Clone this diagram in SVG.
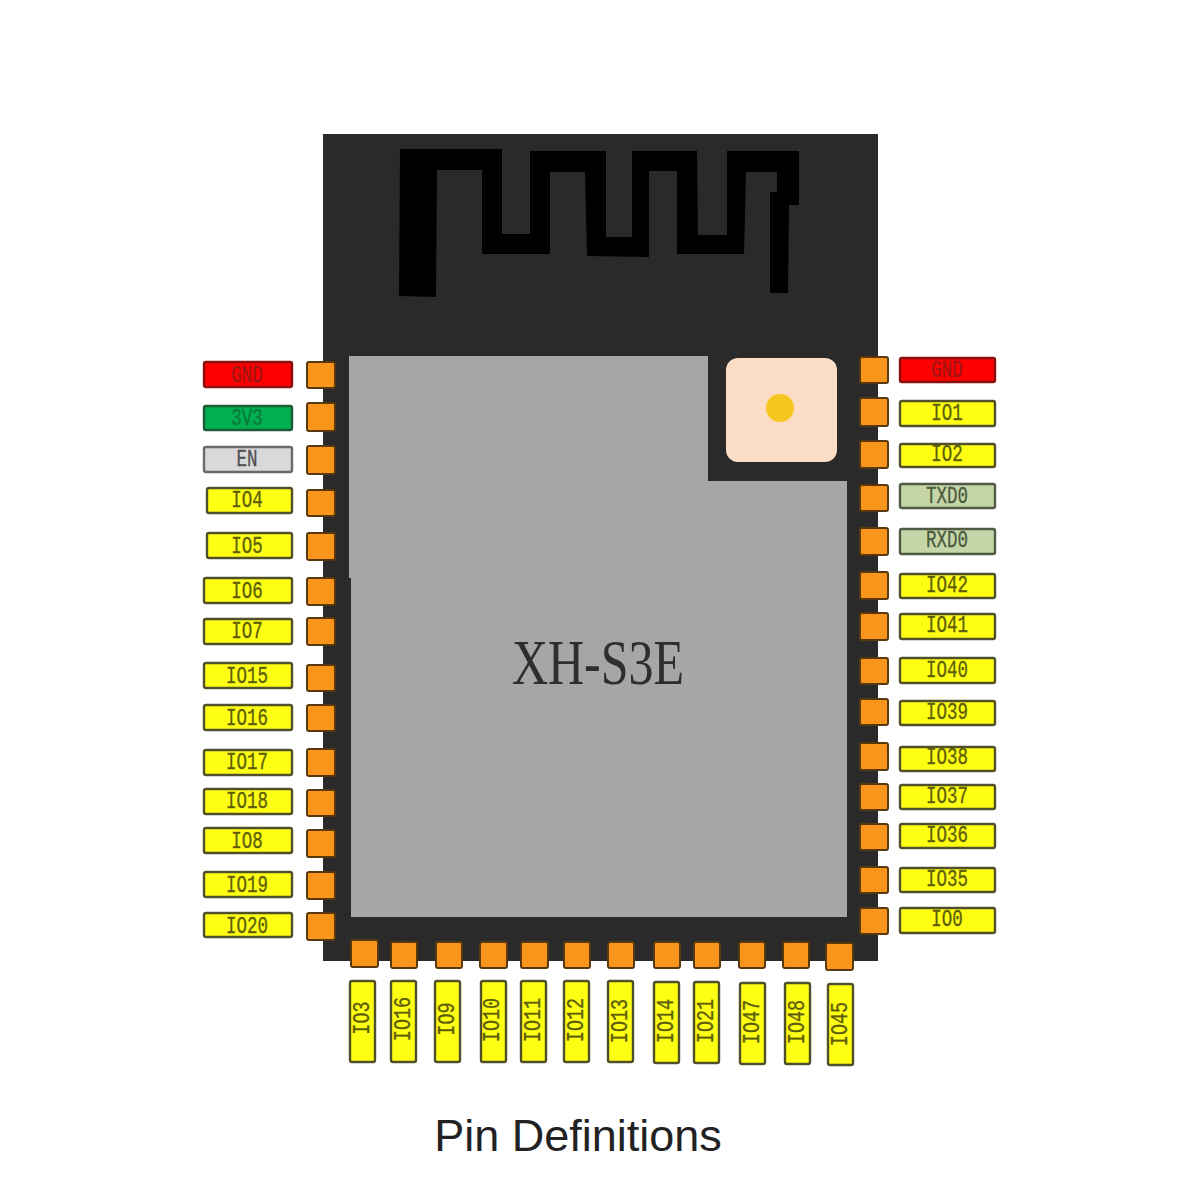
<svg xmlns="http://www.w3.org/2000/svg" width="1200" height="1200" viewBox="0 0 1200 1200">
<style>
  .pad { fill: #f8951a; stroke: #59390c; stroke-width: 2; }
  .tag { stroke: #50502a; stroke-width: 2.4; }
  .io { fill: #ffff14; }
  .gnd { fill: #ff0000; stroke: #8a1010; }
  .pwr { fill: #00b050; stroke: #1c5c38; }
  .en { fill: #d9d9d9; stroke: #6a6a6a; }
  .uart { fill: #c6d6a8; stroke: #4f5a44; }
  text { font-family: "Liberation Mono", monospace; font-size: 17.5px; text-anchor: middle; fill: #5e5e08; stroke: #5e5e08; stroke-width: 0.25; transform-box: fill-box; transform-origin: center; transform: scaleY(1.4); }
  .gnd + text { fill: #a01515; stroke: #a01515; }
  .pwr + text { fill: #0c7a3c; stroke: #0c7a3c; }
  .en + text { fill: #505050; stroke: #505050; }
  .uart + text { fill: #4a5a3c; stroke: #4a5a3c; }
  .side { font-size: 18.5px; transform: scaleY(1.25); }
  .name { font-family: "Liberation Serif", serif; font-size: 50px; fill: #2e2e2e; stroke: none; transform: scaleY(1.27); }
  .caption { font-family: "Liberation Sans", Arial, sans-serif; font-size: 45px; fill: #222222; stroke: none; transform: none; }
</style>

<rect width="1200" height="1200" fill="#ffffff"/>

<g id="module">
  <rect x="323" y="134" width="555" height="827" fill="#2a2a2a"/>
  <path id="antenna" fill="#000000" d="M400 149H502V234H530V151H606V237H632V151H697L698 235H727V151H799V205H789L788 293H770V192H777V172H746L744 254H677V171H649V257L587 256L585 172H550V254H482V170H437L436 297L399 296Z"/>
  <path id="shield" fill="#a6a6a6" d="M349 356H708V481H847V917H351V578H349Z"/>
  <rect id="ufl-connector" x="726" y="358" width="111" height="104" rx="12" fill="#fbdcc5"/>
  <circle cx="780" cy="408" r="14" fill="#f5c71f"/>
  <text class="name" x="598" y="679">XH-S3E</text>
</g>

<g id="left-pins">
  <g id="pin-gnd-l"><rect class="pad" x="307" y="362" width="28" height="26" rx="2"/><rect class="tag gnd" x="204" y="362" width="88" height="25" rx="2"/><text x="247" y="380">GND</text></g>
  <g id="pin-3v3"><rect class="pad" x="307" y="403" width="28" height="28" rx="2"/><rect class="tag pwr" x="204" y="406" width="88" height="24" rx="2"/><text x="247" y="423">3V3</text></g>
  <g id="pin-en"><rect class="pad" x="307" y="446" width="28" height="28" rx="2"/><rect class="tag en" x="204" y="447" width="88" height="25" rx="2"/><text x="247" y="464">EN</text></g>
  <g id="pin-io4"><rect class="pad" x="307" y="490" width="28" height="26" rx="2"/><rect class="tag io" x="207" y="488" width="85" height="25" rx="2"/><text x="247" y="505">IO4</text></g>
  <g id="pin-io5"><rect class="pad" x="307" y="533" width="28" height="27" rx="2"/><rect class="tag io" x="207" y="533" width="85" height="25" rx="2"/><text x="247" y="551">IO5</text></g>
  <g id="pin-io6"><rect class="pad" x="307" y="578" width="28" height="27" rx="2"/><rect class="tag io" x="204" y="578" width="88" height="25" rx="2"/><text x="247" y="596">IO6</text></g>
  <g id="pin-io7"><rect class="pad" x="307" y="618" width="28" height="27" rx="2"/><rect class="tag io" x="204" y="619" width="88" height="25" rx="2"/><text x="247" y="636">IO7</text></g>
  <g id="pin-io15"><rect class="pad" x="307" y="665" width="28" height="26" rx="2"/><rect class="tag io" x="204" y="663" width="88" height="25" rx="2"/><text x="247" y="681">IO15</text></g>
  <g id="pin-io16-l"><rect class="pad" x="307" y="705" width="28" height="26" rx="2"/><rect class="tag io" x="204" y="705" width="88" height="25" rx="2"/><text x="247" y="723">IO16</text></g>
  <g id="pin-io17"><rect class="pad" x="307" y="749" width="28" height="27" rx="2"/><rect class="tag io" x="204" y="750" width="88" height="25" rx="2"/><text x="247" y="767">IO17</text></g>
  <g id="pin-io18"><rect class="pad" x="307" y="790" width="28" height="26" rx="2"/><rect class="tag io" x="204" y="789" width="88" height="25" rx="2"/><text x="247" y="806">IO18</text></g>
  <g id="pin-io8"><rect class="pad" x="307" y="830" width="28" height="27" rx="2"/><rect class="tag io" x="204" y="828" width="88" height="25" rx="2"/><text x="247" y="846">IO8</text></g>
  <g id="pin-io19"><rect class="pad" x="307" y="872" width="28" height="27" rx="2"/><rect class="tag io" x="204" y="872" width="88" height="25" rx="2"/><text x="247" y="890">IO19</text></g>
  <g id="pin-io20"><rect class="pad" x="307" y="913" width="28" height="27" rx="2"/><rect class="tag io" x="204" y="913" width="88" height="24" rx="2"/><text x="247" y="931">IO20</text></g>
</g>

<g id="right-pins">
  <g id="pin-gnd-r"><rect class="pad" x="860" y="357" width="28" height="26" rx="2"/><rect class="tag gnd" x="900" y="358" width="95" height="24" rx="2"/><text x="947" y="375">GND</text></g>
  <g id="pin-io1"><rect class="pad" x="860" y="398" width="28" height="28" rx="2"/><rect class="tag io" x="900" y="401" width="95" height="25" rx="2"/><text x="947" y="418">IO1</text></g>
  <g id="pin-io2"><rect class="pad" x="860" y="441" width="28" height="27" rx="2"/><rect class="tag io" x="900" y="444" width="95" height="23" rx="2"/><text x="947" y="459">IO2</text></g>
  <g id="pin-txd0"><rect class="pad" x="860" y="485" width="28" height="26" rx="2"/><rect class="tag uart" x="900" y="484" width="95" height="24" rx="2"/><text x="947" y="501">TXD0</text></g>
  <g id="pin-rxd0"><rect class="pad" x="860" y="528" width="28" height="27" rx="2"/><rect class="tag uart" x="900" y="529" width="95" height="25" rx="2"/><text x="947" y="545">RXD0</text></g>
  <g id="pin-io42"><rect class="pad" x="860" y="572" width="28" height="27" rx="2"/><rect class="tag io" x="900" y="574" width="95" height="24" rx="2"/><text x="947" y="590">IO42</text></g>
  <g id="pin-io41"><rect class="pad" x="860" y="613" width="28" height="27" rx="2"/><rect class="tag io" x="900" y="614" width="95" height="25" rx="2"/><text x="947" y="630">IO41</text></g>
  <g id="pin-io40"><rect class="pad" x="860" y="658" width="28" height="26" rx="2"/><rect class="tag io" x="900" y="658" width="95" height="25" rx="2"/><text x="947" y="675">IO40</text></g>
  <g id="pin-io39"><rect class="pad" x="860" y="699" width="28" height="26" rx="2"/><rect class="tag io" x="900" y="701" width="95" height="24" rx="2"/><text x="947" y="717">IO39</text></g>
  <g id="pin-io38"><rect class="pad" x="860" y="743" width="28" height="27" rx="2"/><rect class="tag io" x="900" y="747" width="95" height="24" rx="2"/><text x="947" y="762">IO38</text></g>
  <g id="pin-io37"><rect class="pad" x="860" y="784" width="28" height="26" rx="2"/><rect class="tag io" x="900" y="785" width="95" height="24" rx="2"/><text x="947" y="801">IO37</text></g>
  <g id="pin-io36"><rect class="pad" x="860" y="824" width="28" height="26" rx="2"/><rect class="tag io" x="900" y="824" width="95" height="24" rx="2"/><text x="947" y="840">IO36</text></g>
  <g id="pin-io35"><rect class="pad" x="860" y="867" width="28" height="26" rx="2"/><rect class="tag io" x="900" y="868" width="95" height="24" rx="2"/><text x="947" y="884">IO35</text></g>
  <g id="pin-io0"><rect class="pad" x="860" y="908" width="28" height="26" rx="2"/><rect class="tag io" x="900" y="908" width="95" height="25" rx="2"/><text x="947" y="924">IO0</text></g>
</g>

<g id="bottom-pins">
  <g id="pin-io3"><rect class="pad" x="351" y="940" width="27" height="27" rx="2"/><rect class="tag io" x="350" y="981" width="25" height="81" rx="2"/><g transform="translate(368 1018) rotate(-90)"><text class="side">IO3</text></g></g>
  <g id="pin-io16-b"><rect class="pad" x="391" y="942" width="26" height="26" rx="2"/><rect class="tag io" x="391" y="981" width="25" height="81" rx="2"/><g transform="translate(409 1019) rotate(-90)"><text class="side">IO16</text></g></g>
  <g id="pin-io9"><rect class="pad" x="436" y="942" width="26" height="26" rx="2"/><rect class="tag io" x="435" y="981" width="25" height="81" rx="2"/><g transform="translate(453 1019) rotate(-90)"><text class="side">IO9</text></g></g>
  <g id="pin-io10"><rect class="pad" x="480" y="942" width="27" height="26" rx="2"/><rect class="tag io" x="481" y="981" width="25" height="81" rx="2"/><g transform="translate(498 1020) rotate(-90)"><text class="side">IO10</text></g></g>
  <g id="pin-io11"><rect class="pad" x="521" y="942" width="27" height="26" rx="2"/><rect class="tag io" x="521" y="981" width="25" height="81" rx="2"/><g transform="translate(539 1020) rotate(-90)"><text class="side">IO11</text></g></g>
  <g id="pin-io12"><rect class="pad" x="564" y="942" width="26" height="26" rx="2"/><rect class="tag io" x="564" y="981" width="25" height="81" rx="2"/><g transform="translate(582 1020) rotate(-90)"><text class="side">IO12</text></g></g>
  <g id="pin-io13"><rect class="pad" x="608" y="942" width="26" height="26" rx="2"/><rect class="tag io" x="608" y="981" width="25" height="81" rx="2"/><g transform="translate(626 1021) rotate(-90)"><text class="side">IO13</text></g></g>
  <g id="pin-io14"><rect class="pad" x="654" y="942" width="26" height="26" rx="2"/><rect class="tag io" x="654" y="982" width="25" height="81" rx="2"/><g transform="translate(672 1021) rotate(-90)"><text class="side">IO14</text></g></g>
  <g id="pin-io21"><rect class="pad" x="694" y="942" width="26" height="26" rx="2"/><rect class="tag io" x="694" y="982" width="25" height="81" rx="2"/><g transform="translate(712 1021) rotate(-90)"><text class="side">IO21</text></g></g>
  <g id="pin-io47"><rect class="pad" x="739" y="942" width="26" height="26" rx="2"/><rect class="tag io" x="740" y="983" width="25" height="81" rx="2"/><g transform="translate(758 1022) rotate(-90)"><text class="side">IO47</text></g></g>
  <g id="pin-io48"><rect class="pad" x="783" y="942" width="26" height="26" rx="2"/><rect class="tag io" x="785" y="983" width="25" height="81" rx="2"/><g transform="translate(803 1022) rotate(-90)"><text class="side">IO48</text></g></g>
  <g id="pin-io45"><rect class="pad" x="826" y="943" width="27" height="27" rx="2"/><rect class="tag io" x="828" y="984" width="25" height="81" rx="2"/><g transform="translate(846 1024) rotate(-90)"><text class="side">IO45</text></g></g>
</g>

<text class="caption" x="578" y="1151">Pin Definitions</text>
</svg>
